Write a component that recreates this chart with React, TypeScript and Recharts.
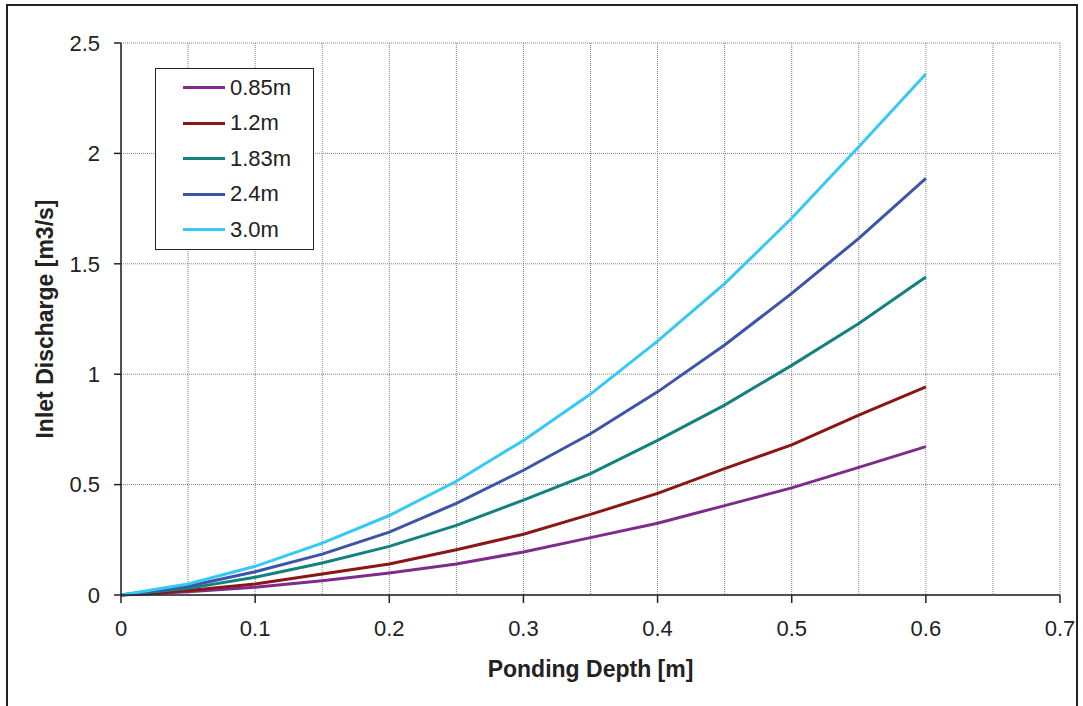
import React from 'react';
import { LineChart, Line, XAxis, YAxis, CartesianGrid, Legend } from 'recharts';

// ponding depth [m]
const depths = [0, 0.05, 0.1, 0.15, 0.2, 0.25, 0.3, 0.35, 0.4, 0.45, 0.5, 0.55, 0.6];

// inlet discharge [m3/s] per inlet length
const q085 = [0, 0.015, 0.035, 0.065, 0.1, 0.14, 0.195, 0.26, 0.325, 0.405, 0.485, 0.578, 0.672];
const q12 = [0, 0.02, 0.05, 0.095, 0.14, 0.205, 0.275, 0.365, 0.46, 0.572, 0.68, 0.815, 0.943];
const q183 = [0, 0.03, 0.08, 0.145, 0.22, 0.315, 0.43, 0.55, 0.7, 0.86, 1.04, 1.23, 1.44];
const q24 = [0, 0.04, 0.105, 0.185, 0.285, 0.415, 0.565, 0.73, 0.92, 1.132, 1.366, 1.615, 1.887];
const q30 = [0, 0.05, 0.13, 0.235, 0.36, 0.515, 0.7, 0.91, 1.15, 1.41, 1.706, 2.03, 2.36];

const xTicks = [0, 0.05, 0.1, 0.15, 0.2, 0.25, 0.3, 0.35, 0.4, 0.45, 0.5, 0.55, 0.6, 0.65, 0.7];
const xLabels = ['0', '0.1', '0.2', '0.3', '0.4', '0.5', '0.6', '0.7'];
const yTicks = [0, 0.5, 1, 1.5, 2, 2.5];

const series = [
  { key: 'q085', name: '0.85m', color: '#7e2b8c', values: q085 },
  { key: 'q12', name: '1.2m', color: '#8a1616', values: q12 },
  { key: 'q183', name: '1.83m', color: '#12827f', values: q183 },
  { key: 'q24', name: '2.4m', color: '#3d54a7', values: q24 },
  { key: 'q30', name: '3.0m', color: '#35c9f3', values: q30 },
];

const data = depths.map((d, i) => {
  const row: any = { depth: d };
  series.forEach(s => { row[s.key] = s.values[i]; });
  return row;
});

const font = '"Liberation Sans", Arial, sans-serif';

const XTick = (props: any) => {
  const { x, y, payload } = props;
  const label = xLabels.find(l => Math.abs(parseFloat(l) - payload.value) < 1e-6);
  if (label === undefined) return null;
  return (
    <g>
      <line x1={x} y1={y - 8} x2={x} y2={y} stroke="#222" strokeWidth={1.5} />
      <text x={x} y={y + 33} textAnchor="middle" fontSize={22} fill="#222" fontFamily={font}>
        {label}
      </text>
    </g>
  );
};

const LegendBox = () => (
  <div
    style={{
      boxSizing: 'border-box', width: 159, height: 182, border: '1.5px solid #222',
      background: '#fff', paddingTop: 1, fontFamily: font, fontSize: 22, color: '#222',
    }}
  >
    {series.map(s => (
      <div key={s.key} style={{ height: 35.5, display: 'flex', alignItems: 'center', paddingLeft: 27 }}>
        <div style={{ width: 42, height: 3, background: s.color, marginRight: 5 }} />
        <span>{s.name}</span>
      </div>
    ))}
  </div>
);

const App: React.FC = () => (
  <div style={{ position: 'absolute', left: 0, top: 0, width: 1083, height: 706, overflow: 'hidden', background: '#fff' }}>
    <div
      style={{
        position: 'absolute', left: 6, top: 4, width: 1072, height: 730,
        border: '2px solid #222', boxSizing: 'border-box',
      }}
    />
    <LineChart width={1083} height={706} data={data} margin={{ top: 43, right: 23, bottom: 0, left: 0 }}>
      <CartesianGrid stroke="#808080" strokeDasharray="1 1" />
      <XAxis
        dataKey="depth"
        type="number"
        domain={[0, 0.7]}
        ticks={xTicks}
        interval={0}
        height={111}
        tickSize={8}
        tickMargin={0}
        tickLine={false}
        tick={<XTick />}
        axisLine={{ stroke: '#222', strokeWidth: 1.5 }}
        label={{
          value: 'Ponding Depth [m]', position: 'insideBottom', offset: 29,
          style: { fontSize: 23, fontWeight: 'bold', fill: '#222', fontFamily: font },
        }}
      />
      <YAxis
        type="number"
        domain={[0, 2.5]}
        ticks={yTicks}
        width={121}
        tickSize={7}
        tickMargin={14}
        tick={{ fontSize: 22, fill: '#222', fontFamily: font }}
        tickLine={{ stroke: '#222', strokeWidth: 1.5 }}
        axisLine={{ stroke: '#222', strokeWidth: 1.5 }}
        label={{
          value: 'Inlet Discharge [m3/s]', angle: -90, position: 'insideLeft', offset: 45,
          style: { fontSize: 23, fontWeight: 'bold', fill: '#222', fontFamily: font, textAnchor: 'middle' },
        }}
      />
      <Legend
        layout="vertical"
        align="center"
        verticalAlign="middle"
        content={<LegendBox />}
        wrapperStyle={{ left: 155, top: 68, width: 159, height: 182 }}
      />
      {series.map(s => (
        <Line
          key={s.key}
          type="linear"
          dataKey={s.key}
          name={s.name}
          stroke={s.color}
          strokeWidth={3}
          dot={false}
          activeDot={false}
          isAnimationActive={false}
        />
      ))}
    </LineChart>
  </div>
);

export default App;
